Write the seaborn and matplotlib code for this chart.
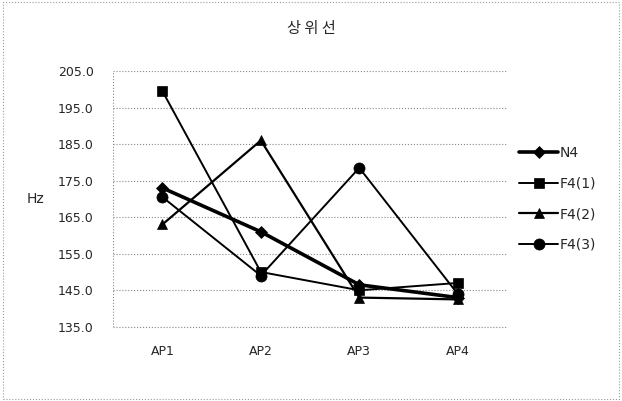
import numpy as np
import matplotlib.pyplot as plt
import seaborn as sns
import pandas as pd
from matplotlib.patches import Rectangle

# data
positions = ['AP1', 'AP2', 'AP3', 'AP4']
series = ['N4', 'F4(1)', 'F4(2)', 'F4(3)']
n4 = [173.0, 161.0, 146.5, 143.0]
f4_1 = [199.5, 150.0, 145.0, 147.0]
f4_2 = [163.0, 186.0, 143.0, 142.5]
f4_3 = [170.5, 149.0, 178.5, 144.0]

df = pd.DataFrame({'pos': positions * 4,
                   'series': np.repeat(series, 4),
                   'Hz': n4 + f4_1 + f4_2 + f4_3})

sns.set_style('white')
plt.rcParams['font.family'] = ['DejaVu Sans', 'Noto Sans CJK KR']

fig = plt.figure(figsize=(6.22, 4.01), dpi=100)
ax = fig.add_axes([0.182, 0.185, 0.633, 0.638])

markers = {'N4': 'D', 'F4(1)': 's', 'F4(2)': '^', 'F4(3)': 'o'}
sizes = {'N4': 6, 'F4(1)': 6.5, 'F4(2)': 7.5, 'F4(3)': 8}
widths = {'N4': 2.6, 'F4(1)': 1.4, 'F4(2)': 1.6, 'F4(3)': 1.4}
for name in series:
    sub = df[df['series'] == name]
    sns.lineplot(data=sub, x='pos', y='Hz', ax=ax, color='black',
                 marker=markers[name], markersize=sizes[name],
                 markeredgecolor='black', markeredgewidth=0.5,
                 linewidth=widths[name], label=name, sort=False)

ax.set_ylim(135, 205)
ax.set_yticks(np.arange(135, 206, 10))
ax.set_yticklabels([f'{v:.1f}' for v in np.arange(135, 206, 10)])
ax.set_xlim(-0.5, 3.5)
ax.grid(axis='y', color='#888888', linestyle=':', linewidth=0.8)
for s in ax.spines.values():
    s.set_visible(False)
ax.axvline(-0.5, color='#888888', linestyle=':', linewidth=0.8)
ax.axhline(135, color='#888888', linestyle=':', linewidth=0.8, clip_on=False)
ax.tick_params(axis='y', labelsize=9, length=0, pad=14)
ax.tick_params(axis='x', labelsize=9, length=0, pad=13)
ax.set_xlabel('')
ax.set_ylabel('Hz', rotation=0, fontsize=10, labelpad=16, va='center')

ax.legend(loc='center left', bbox_to_anchor=(1.0, 0.5), frameon=False,
          fontsize=10, handlelength=2.8, labelspacing=1.2, handletextpad=0.1)

fig.text(0.5, 0.93, '상 위 선', ha='center', va='center', fontsize=11,
         family=['Noto Sans CJK KR', 'DejaVu Sans'])

fig.patches.append(Rectangle((0.005, 0.005), 0.99, 0.99, transform=fig.transFigure,
                             fill=False, edgecolor='#999999', linestyle=':',
                             linewidth=0.8))

fig.savefig('out.png', dpi=100)
